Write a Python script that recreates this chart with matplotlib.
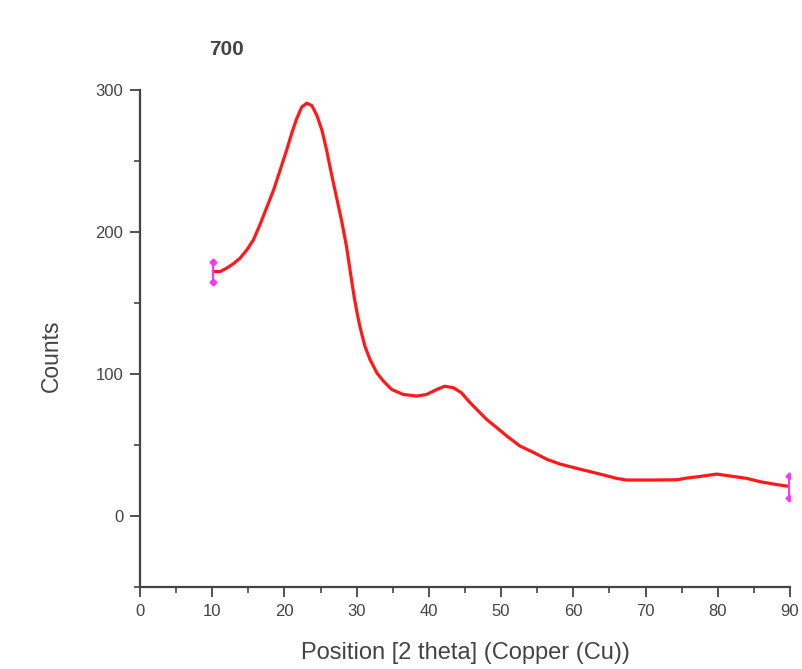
import numpy as np
import matplotlib
matplotlib.use("Agg")
import matplotlib.pyplot as plt
from matplotlib.ticker import MultipleLocator

plt.rcParams['font.family'] = ['Liberation Sans', 'DejaVu Sans']

# pattern
two_theta = [10.15, 11.1, 12.0, 12.9, 13.85, 14.8, 15.7, 16.6, 17.5, 18.5, 19.4, 20.3,
             21.0, 21.7, 22.4, 23.1, 23.8, 24.5, 25.2, 25.85, 26.5, 27.2, 27.9, 28.6,
             29.3, 29.7, 30.1, 30.5, 31.15, 31.85, 32.8, 33.7, 34.85, 36.45, 38.3, 39.7,
             41.1, 42.2, 43.4, 44.5, 45.7, 46.85, 48.0, 49.4, 50.8, 52.6, 54.5, 56.3,
             58.2, 60.9, 63.7, 66.0, 67.4, 70.6, 74.3, 75.7, 77.5, 79.85, 82.2, 84.0,
             85.9, 87.7, 89.6]
counts = [172.1, 172.1, 174.5, 177.5, 181.5, 187.4, 194.4, 204.9, 216.6, 229.5, 243.5, 257.5,
          269.3, 279.8, 288.0, 290.7, 289.0, 282.0, 271.6, 257.5, 241.2, 224.8, 208.4, 189.7,
          166.0, 153.0, 142.0, 132.4, 119.5, 110.2, 100.8, 95.0, 89.1, 85.6, 84.4, 85.6,
          89.1, 91.4, 90.3, 86.8, 79.8, 73.9, 68.0, 62.2, 56.3, 49.3, 44.7, 40.0,
          36.5, 33.0, 29.5, 26.5, 25.3, 25.3, 25.5, 26.7, 27.8, 29.5, 27.8, 26.5,
          24.1, 22.5, 21.0]

# end markers (range limits)
end_x = [10.1, 89.8]
end_lo = [165, 12.5]
end_hi = [179, 28]

fig = plt.figure(figsize=(8.03, 6.69), dpi=100)
ax = fig.add_axes([0.1743, 0.1226, 0.8095, 0.7429])

ax.plot(two_theta, counts, color='#ff1a1a', lw=2.3,
        solid_capstyle='round', solid_joinstyle='round')

for x, lo, hi in zip(end_x, end_lo, end_hi):
    ax.plot([x, x], [lo, hi], color='#ff33ff', lw=1.5)
    ax.plot([x, x], [lo, hi], linestyle='', marker='D', ms=3.5, color='#ff33ff')

ax.set_xlim(0, 90)
ax.set_ylim(-50, 300)
ax.set_xticks(range(0, 91, 10))
ax.set_yticks([0, 100, 200, 300])
ax.xaxis.set_minor_locator(MultipleLocator(5))
ax.yaxis.set_minor_locator(MultipleLocator(50))

for s in ['top', 'right']:
    ax.spines[s].set_visible(False)
for s in ['left', 'bottom']:
    ax.spines[s].set_color('#444444')
    ax.spines[s].set_linewidth(1.6)

ax.tick_params(which='major', length=7, width=1.3, color='#444444',
               labelsize=12, labelcolor='#444444', pad=5)
ax.tick_params(which='minor', length=4, width=1.2, color='#444444')

ax.set_xlabel('Position [2 theta] (Copper (Cu))', fontsize=17, color='#444444', labelpad=17)
ax.set_ylabel('Counts', fontsize=16.5, color='#444444')
ax.yaxis.set_label_coords(-0.118, 0.465)
fig.text(0.282, 0.918, '700', fontsize=15, fontweight='bold', color='#444444', ha='center')

fig.savefig('out.png', dpi=100)
